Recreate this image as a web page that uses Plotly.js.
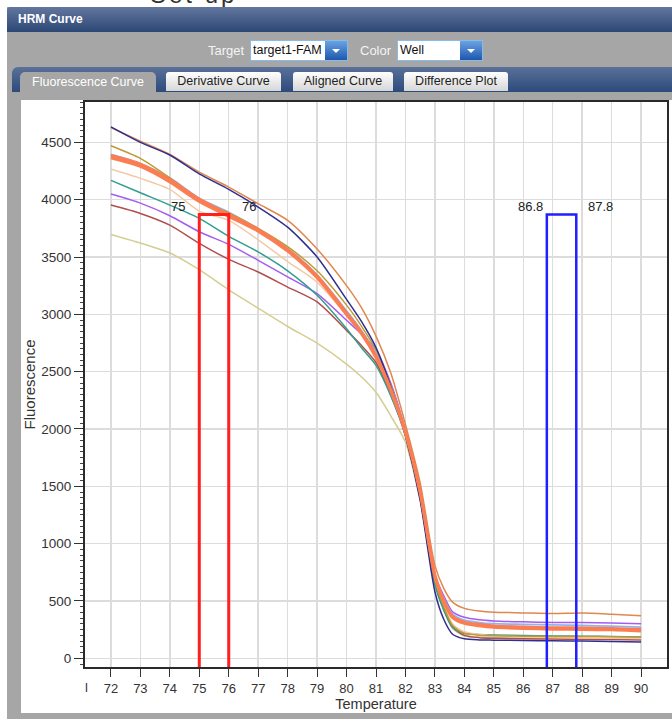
<!DOCTYPE html>
<html><head><meta charset="utf-8">
<script src="https://cdn.plot.ly/plotly-3.0.1.min.js"></script>
<style>
html,body{margin:0;padding:0;}
body{width:672px;height:719px;overflow:hidden;position:relative;background:#ffffff;font-family:"Liberation Sans",Arial,sans-serif;}
.abs{position:absolute;}
#cut{left:150px;top:-19px;font-size:24px;color:#333;white-space:nowrap;letter-spacing:3px;}
#panel{left:7px;top:7px;width:665px;height:712px;background:#a6a6a6;}
#titlebar{left:7px;top:7px;width:665px;height:25px;background:linear-gradient(#62779e,#2c4775);color:#fff;font-weight:bold;font-size:12px;line-height:25px;border-radius:3px 0 0 0;}
#titlebar span{margin-left:11px;}
.lbl{color:#f4f4f4;font-size:13px;top:43px;}
.sel{top:40px;height:19px;background:#fff;border:1px solid #86bde8;font-size:12.5px;line-height:19px;color:#111;}
.sel span{margin-left:2px;}
.btn{position:absolute;right:0;top:0;width:22px;height:19px;background:linear-gradient(#6aa2e2,#1d58ad);}
.btn:after{content:"";position:absolute;left:7px;top:8px;border-left:4px solid transparent;border-right:4px solid transparent;border-top:4px solid #fff;}
#tabbar{left:12px;top:67px;width:660px;height:25px;background:linear-gradient(#5a7199,#2d4a7b);border-radius:6px 0 0 0;}
.tab{top:72px;height:19px;font-size:12.5px;line-height:19px;text-align:center;color:#1e1e1e;background:linear-gradient(#ffffff,#d6d6d6);border-radius:3px 3px 0 0;}
#tab1{left:20px;width:136px;height:22px;line-height:21px;background:#a6a6a6;color:#fff;border-radius:5px 5px 0 0;}
#chartbg{left:21px;top:100px;width:651px;height:613px;background:#fff;}
#chart{left:21px;top:100px;width:651px;height:613px;}
</style>
</head><body>
<div id="cut" class="abs">Set up</div>
<div id="panel" class="abs"></div>
<div id="titlebar" class="abs"><span>HRM Curve</span></div>
<div class="abs lbl" style="left:208px;">Target</div>
<div class="abs sel" style="left:250px;width:96px;"><span>target1-FAM</span><div class="btn"></div></div>
<div class="abs lbl" style="left:360px;">Color</div>
<div class="abs sel" style="left:397px;width:84px;"><span>Well</span><div class="btn"></div></div>
<div id="tabbar" class="abs"></div>
<div id="tab1" class="abs tab">Fluorescence Curve</div>
<div class="abs tab" style="left:166px;width:115px;">Derivative Curve</div>
<div class="abs tab" style="left:293px;width:100px;">Aligned Curve</div>
<div class="abs tab" style="left:404px;width:104px;">Difference Plot</div>
<div id="chartbg" class="abs"></div>
<div id="chart" class="abs"></div>
<script>
// ---- data ----
const temps = [72,73,74,75,76,77,78,79,80,80.5,81,81.5,82,82.5,83,83.3,83.6,84,84.5,85,86,87,88,89,90];
const khaki     = [3697,3622,3535,3389,3214,3054,2894,2748,2565,2455,2320,2115,1885,1370,640,420,260,195,185,180,176,172,170,168,166];
const brownRed  = [3953,3880,3778,3619,3480,3369,3238,3108,2860,2730,2580,2300,1950,1400,660,430,270,200,180,175,170,168,165,163,160];
const purple    = [4049,3970,3860,3720,3610,3471,3326,3180,2948,2830,2690,2400,1990,1460,730,545,405,358,336,326,318,312,312,307,301];
const teal      = [4168,4060,3953,3837,3680,3544,3380,3166,2875,2710,2555,2290,1940,1400,640,420,270,216,208,204,199,195,193,190,186];
const peach     = [4267,4186,4090,3900,3820,3650,3460,3280,2990,2830,2620,2340,1960,1430,700,470,300,232,207,196,186,181,178,175,172];
const lightBlue = [4395,4315,4190,4012,3890,3745,3575,3345,3030,2860,2660,2370,1980,1450,720,520,385,332,312,302,296,291,286,280,272];
const goldenrod = [4470,4360,4190,4000,3885,3750,3590,3380,3080,2900,2690,2380,1970,1430,680,450,285,218,202,196,193,190,190,188,186];
const navy      = [4635,4500,4390,4225,4090,3936,3760,3500,3130,2940,2710,2370,1940,1380,580,340,210,170,160,158,155,152,150,147,143];
const orange    = [4630,4510,4395,4240,4110,3965,3820,3570,3250,3060,2810,2490,2040,1530,810,610,490,435,412,402,396,390,394,384,372];
const coralA    = [4385,4310,4175,4005,3870,3740,3565,3333,3013,2846,2636,2346,1976,1456,726,506,366,316,296,282,272,267,265,260,252];
const coralB    = [4365,4290,4155,3985,3855,3726,3551,3319,2999,2834,2624,2334,1964,1444,714,494,354,304,284,270,260,254,251,248,238];
const redRange  = [75, 76];
const blueRange = [86.8, 87.8];
const regionTop = 3870;
const xRange = [71.12, 90.88];
const yRange = [-76, 4852];

// ---- styles ----
const series = [
  {y: khaki, c: '#d6cd92', w: 1.5},
  {y: brownRed, c: '#b04e4e', w: 1.5},
  {y: purple, c: '#a55cf0', w: 1.5},
  {y: teal, c: '#2f9e90', w: 1.5},
  {y: peach, c: '#f2cba6', w: 1.5},
  {y: lightBlue, c: '#92b4ee', w: 1.8},
  {y: goldenrod, c: '#bf9a35', w: 1.5},
  {y: orange, c: '#e0874f', w: 1.5},
  {y: navy, c: '#2f2f8f', w: 1.5},
  {y: coralA, c: '#fb7d52', w: 3},
  {y: coralB, c: '#fb7d52', w: 3}
];
const traces = series.map(s => ({
  x: temps, y: s.y, type: 'scatter', mode: 'lines',
  line: {color: s.c, width: s.w, shape: 'spline', smoothing: 0.7},
  hoverinfo: 'skip'
}));
function box(r, color, w) {
  return {x: [r[0], r[0], r[1], r[1]], y: [yRange[0], regionTop, regionTop, yRange[0]],
    type: 'scatter', mode: 'lines', line: {color: color, width: w}, hoverinfo: 'skip'};
}
traces.push(box(redRange, '#ff1f1f', 3));
traces.push(box(blueRange, '#1f1fff', 2.5));

const lblFont = {size: 13, color: '#222'};
const annotations = [
  {x: redRange[0], y: regionTop, xref: 'x', yref: 'y', text: String(redRange[0]), showarrow: false, xanchor: 'right', yanchor: 'middle', xshift: -12, yshift: 8, font: lblFont},
  {x: redRange[1], y: regionTop, xref: 'x', yref: 'y', text: String(redRange[1]), showarrow: false, xanchor: 'left', yanchor: 'middle', xshift: 11, yshift: 8, font: lblFont},
  {x: blueRange[0], y: regionTop, xref: 'x', yref: 'y', text: String(blueRange[0]), showarrow: false, xanchor: 'right', yanchor: 'middle', xshift: -2, yshift: 8, font: lblFont},
  {x: blueRange[1], y: regionTop, xref: 'x', yref: 'y', text: String(blueRange[1]), showarrow: false, xanchor: 'left', yanchor: 'middle', xshift: 10, yshift: 8, font: lblFont},
  {x: 0, y: 0, xref: 'paper', yref: 'paper', text: 'l', showarrow: false, xanchor: 'center', yanchor: 'middle', xshift: 1, yshift: -20, font: {size: 13, color: '#333'}}
];

const layout = {
  width: 651, height: 613,
  margin: {l: 64, r: 5, t: 2, b: 46},
  paper_bgcolor: '#ffffff', plot_bgcolor: '#ffffff',
  showlegend: false, hovermode: false,
  font: {family: '"Liberation Sans", Arial, sans-serif', size: 13.5, color: '#333'},
  xaxis: {
    range: xRange, tick0: 72, dtick: 1, ticks: 'outside', ticklen: 8, tickwidth: 1, tickcolor: '#333',
    tickfont: {size: 13},
    showline: true, mirror: true, linecolor: '#2a2a2a', linewidth: 2,
    showgrid: true, gridcolor: '#dcdcdc', gridwidth: 1.5, zeroline: false, automargin: false,
    title: {text: 'Temperature', font: {size: 14.5, color: '#333'}, standoff: 4}
  },
  yaxis: {
    range: yRange, tick0: 0, dtick: 500, ticks: 'outside', ticklen: 9, tickwidth: 1, tickcolor: '#333',
    minor: {dtick: 50, ticks: 'outside', ticklen: 3, tickcolor: '#444', showgrid: false},
    showline: true, mirror: true, linecolor: '#2a2a2a', linewidth: 2,
    showgrid: true, gridcolor: '#dcdcdc', gridwidth: 1.5, zeroline: false, automargin: false,
    title: {text: 'Fluorescence', font: {size: 15, color: '#333'}, standoff: 4}
  },
  annotations: annotations
};
Plotly.newPlot('chart', traces, layout, {displayModeBar: false, staticPlot: true});
</script>
</body></html>
